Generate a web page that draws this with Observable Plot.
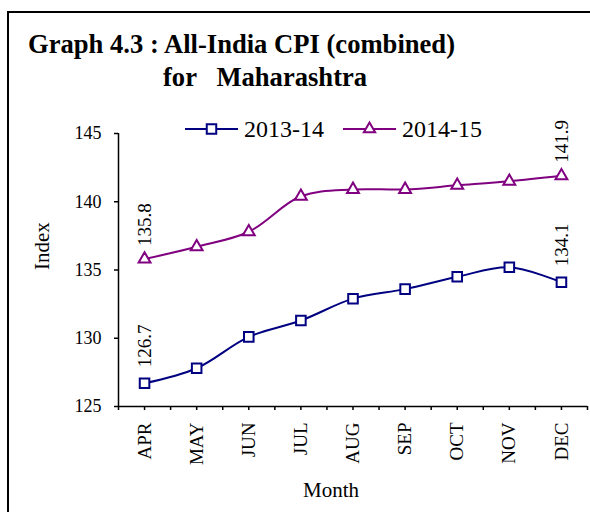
<!DOCTYPE html>
<html>
<head>
<meta charset="utf-8">
<script src="https://cdn.jsdelivr.net/npm/d3@7"></script>
<script src="https://cdn.jsdelivr.net/npm/@observablehq/plot@0.6"></script>
<style>
  body { margin: 0; background: #fff; }
  #wrap { position: relative; width: 590px; height: 512px; overflow: hidden; font-family: "Liberation Serif", "Times New Roman", serif; color: #000; }
  #frame { position: absolute; left: 7px; top: 11px; width: 610px; height: 530px; border: 2px solid #000; box-sizing: border-box; }
  .title { position: absolute; font-weight: bold; font-size: 26.6px; line-height: 26px; white-space: pre; }
  #chart { position: absolute; left: 0; top: 0; }
  #legend { position: absolute; left: 0; top: 0; }
</style>
</head>
<body>
<div id="wrap">
  <div id="frame"></div>
  <div class="title" style="left:28px; top:31px;">Graph 4.3 : All-India CPI (combined)</div>
  <div class="title" style="left:163px; top:64px;">for   Maharashtra</div>
  <div id="chart"></div>
  <svg id="legend" width="590" height="150"></svg>
</div>
<script>
// ---- data ----
const months = ["APR", "MAY", "JUN", "JUL", "AUG", "SEP", "OCT", "NOV", "DEC"];
const cpi201314 = [126.7, 127.8, 130.1, 131.3, 132.9, 133.6, 134.5, 135.2, 134.1];
const cpi201415 = [135.8, 136.7, 137.8, 140.4, 140.9, 140.9, 141.2, 141.5, 141.9];
const seriesNames = ["2013-14", "2014-15"];
const seriesColors = ["#000080", "#800080"];
const yTicks = [125, 130, 135, 140, 145];
const labelledMonths = [0, 8];

const rows13 = months.map((m, i) => ({ i, m, v: cpi201314[i], s: seriesNames[0] }));
const rows14 = months.map((m, i) => ({ i, m, v: cpi201415[i], s: seriesNames[1] }));
const lab13 = rows13.filter(d => labelledMonths.includes(d.i));
const lab14 = rows14.filter(d => labelledMonths.includes(d.i));
const xTicks = d3.range(-0.5, months.length, 0.5);

const chart = Plot.plot({
  width: 590,
  height: 512,
  marginLeft: 118,
  marginRight: 3,
  marginTop: 133,
  marginBottom: 106,
  style: { fontFamily: "Liberation Serif, Times New Roman, serif", background: "transparent", color: "#000" },
  x: { type: "linear", domain: [-0.5, months.length - 0.5] },
  y: { domain: [yTicks[0], yTicks[yTicks.length - 1]] },
  color: { domain: seriesNames, range: seriesColors },
  marks: [
    Plot.ruleY([yTicks[0]], { stroke: "#000", strokeWidth: 1.5 }),
    Plot.ruleX([-0.5], { stroke: "#000", strokeWidth: 1.5 }),
    Plot.axisY({ ticks: yTicks, tickSize: 4, tickPadding: 13, fontSize: 18, label: null, strokeWidth: 1.5 }),
    Plot.axisX({
      ticks: xTicks, tickSize: 4, tickPadding: 12, fontSize: 19, label: null, strokeWidth: 1.5,
      tickRotate: -90,
      tickFormat: d => Number.isInteger(d) ? months[d] : ""
    }),
    Plot.text(["Index"], { frameAnchor: "left", dx: -76, rotate: -90, fontSize: 21 }),
    Plot.text(["Month"], { frameAnchor: "bottom", dx: -22, dy: 90, fontSize: 21 }),
    Plot.line(rows13, { x: "i", y: "v", stroke: "s", curve: "catmull-rom", strokeWidth: 2 }),
    Plot.line(rows14, { x: "i", y: "v", stroke: "s", curve: "catmull-rom", strokeWidth: 2 }),
    Plot.dot(rows13, { x: "i", y: "v", symbol: "square", r: 5.4, fill: "white", stroke: "s", strokeWidth: 2 }),
    Plot.dot(rows14, { x: "i", y: "v", symbol: "triangle", r: 4.4, fill: "white", stroke: "s", strokeWidth: 2 }),
    Plot.text(lab13, { x: "i", y: "v", text: d => d.v.toFixed(1), rotate: -90, textAnchor: "start", dy: -16, fontSize: 19, fill: "#000" }),
    Plot.text(lab14, { x: "i", y: "v", text: d => d.v.toFixed(1), rotate: -90, textAnchor: "start", dy: -13, fontSize: 19, fill: "#000" })
  ]
});
document.getElementById("chart").appendChild(chart);

// ---- legend ----
const lg = d3.select("#legend");
const items = [
  { name: seriesNames[0], color: seriesColors[0], x: 185, sym: d3.symbolSquare, size: 90 },
  { name: seriesNames[1], color: seriesColors[1], x: 343, sym: d3.symbolTriangle, size: 55 }
];
items.forEach(it => {
  const g = lg.append("g");
  g.append("line").attr("x1", it.x).attr("x2", it.x + 53).attr("y1", 129).attr("y2", 129)
    .attr("stroke", it.color).attr("stroke-width", 2);
  g.append("path").attr("d", d3.symbol(it.sym, it.size)()).attr("transform", `translate(${it.x + 26.5},129)`)
    .attr("fill", "white").attr("stroke", it.color).attr("stroke-width", 2);
  g.append("text").attr("x", it.x + 59).attr("y", 137).attr("font-size", 24)
    .attr("font-family", "Liberation Serif, Times New Roman, serif").text(it.name);
});
</script>
</body>
</html>
